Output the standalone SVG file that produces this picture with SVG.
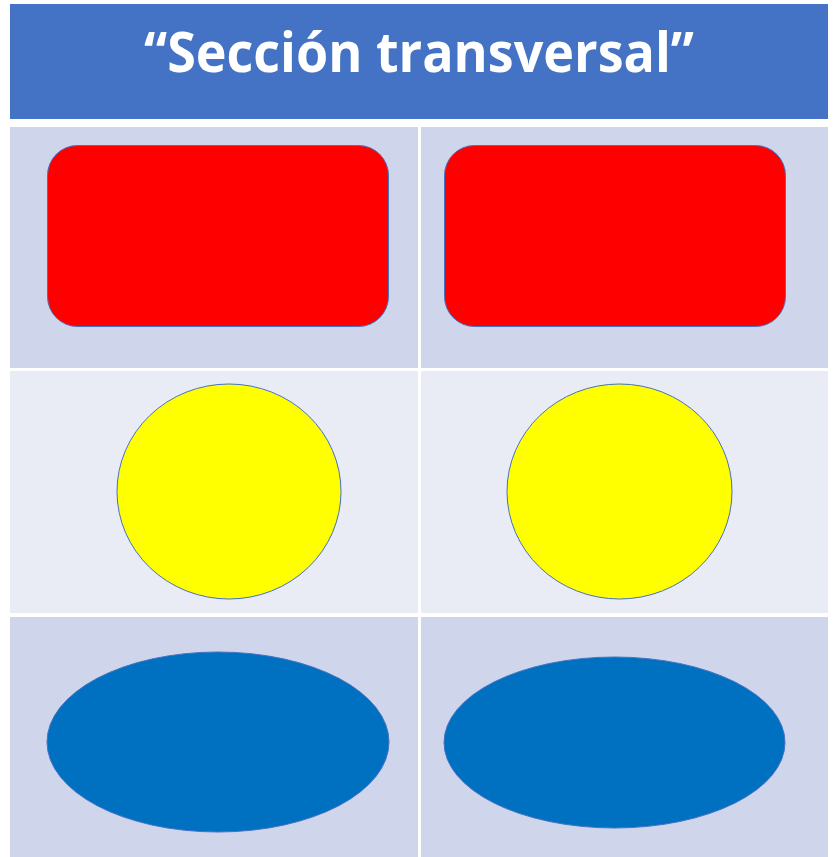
<svg xmlns="http://www.w3.org/2000/svg" width="837" height="857" viewBox="0 0 837 857">
<style>
.hdr{fill:#4472C4}
.r1{fill:#CFD5EA}
.r2{fill:#E9EBF5}
.red{fill:#FF0000;stroke:#4472C4;stroke-width:1}
.yel{fill:#FFFF00;stroke:#4472C4;stroke-width:1}
.blu{fill:#0070C0;stroke:#4472C4;stroke-width:1}
.title{font-family:"Open Sans","Lato",sans-serif;font-weight:bold;font-size:56px;fill:#FFFFFF}
</style>
<rect width="837" height="857" fill="#FFFFFF"/>
<g id="table">
<rect class="hdr" x="10" y="4" width="818" height="115"/>
<rect class="r1" x="10" y="127" width="408" height="241"/>
<rect class="r1" x="421" y="127" width="407" height="241"/>
<rect class="r2" x="10" y="371" width="408" height="242"/>
<rect class="r2" x="421" y="371" width="407" height="242"/>
<rect class="r1" x="10" y="617" width="408" height="240"/>
<rect class="r1" x="421" y="617" width="407" height="240"/>
</g>
<g id="title">
<text class="title" x="419" y="72" text-anchor="middle" textLength="550" lengthAdjust="spacingAndGlyphs">“Sección transversal”</text>
</g>
<g id="red-left"><rect class="red" x="47.5" y="145.5" width="341" height="181" rx="30"/></g>
<g id="red-right"><rect class="red" x="444.5" y="145.5" width="341" height="181" rx="30"/></g>
<g id="yellow-left"><ellipse class="yel" cx="229" cy="491.5" rx="112" ry="107.5"/></g>
<g id="yellow-right"><ellipse class="yel" cx="619.5" cy="491.5" rx="112.5" ry="107.5"/></g>
<g id="blue-left"><ellipse class="blu" cx="218" cy="742" rx="171" ry="90"/></g>
<g id="blue-right"><ellipse class="blu" cx="614.5" cy="742.5" rx="170.5" ry="85.5"/></g>
<g id="connectors"></g>
</svg>
